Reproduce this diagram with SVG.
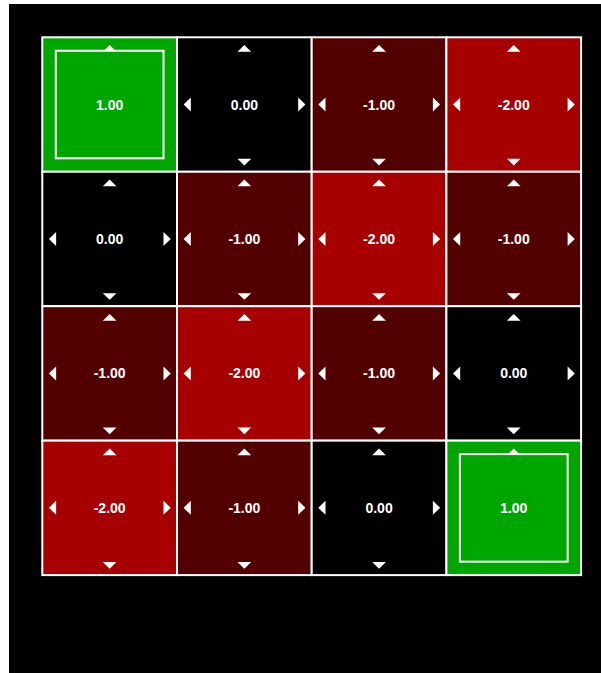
<svg xmlns="http://www.w3.org/2000/svg" xmlns:xlink="http://www.w3.org/1999/xlink" width="601" height="673" viewBox="0 0 601 673">
  <style>
    .cell { stroke: #ffffff; stroke-width: 2; }
    .g { fill: #00a600; }
    .r2 { fill: #a60000; }
    .r1 { fill: #530000; }
    .z { fill: #000000; }
    .arr { fill: #ffffff; }
    .inner { fill: #00a600; stroke: #ffffff; stroke-width: 2; }
    .val { font-family: "Liberation Sans", Arial, sans-serif; font-size: 14px; font-weight: bold; fill: #ffffff; text-anchor: middle; }
  </style>
  <defs>
    <polygon id="up" class="arr" points="67.35,7.8 60.5,14.5 74.2,14.5"/>
    <g id="arrows" class="arr">
      <polygon points="67.35,7.8 60.5,14.5 74.2,14.5"/>
      <polygon points="67.35,128.1 60.5,121.4 74.2,121.4"/>
      <polygon points="6.6,67.2 13.8,60.2 13.8,74.2"/>
      <polygon points="128.4,67.2 121.2,60.2 121.2,74.2"/>
    </g>
  </defs>
  <rect x="0" y="0" width="601" height="673" fill="#ffffff"/>
  <rect x="9" y="4" width="592" height="669" fill="#000000"/>

  <!-- Row 0 -->
  <g id="cell-0-0">
    <rect class="cell g" x="42.3" y="37.3" width="134.7" height="134.45"/>
    <use xlink:href="#up" x="42.3" y="37.3"/>
    <rect class="inner" x="55.77" y="50.75" width="107.76" height="107.56"/>
    <text class="val" x="109.65" y="109.5">1.00</text>
  </g>
  <g id="cell-0-1">
    <rect class="cell z" x="177" y="37.3" width="134.7" height="134.45"/>
    <use xlink:href="#arrows" x="177" y="37.3"/>
    <text class="val" x="244.35" y="109.5">0.00</text>
  </g>
  <g id="cell-0-2">
    <rect class="cell r1" x="311.7" y="37.3" width="134.7" height="134.45"/>
    <use xlink:href="#arrows" x="311.7" y="37.3"/>
    <text class="val" x="379.05" y="109.5">-1.00</text>
  </g>
  <g id="cell-0-3">
    <rect class="cell r2" x="446.4" y="37.3" width="134.7" height="134.45"/>
    <use xlink:href="#arrows" x="446.4" y="37.3"/>
    <text class="val" x="513.75" y="109.5">-2.00</text>
  </g>

  <!-- Row 1 -->
  <g id="cell-1-0">
    <rect class="cell z" x="42.3" y="171.75" width="134.7" height="134.45"/>
    <use xlink:href="#arrows" x="42.3" y="171.75"/>
    <text class="val" x="109.65" y="243.95">0.00</text>
  </g>
  <g id="cell-1-1">
    <rect class="cell r1" x="177" y="171.75" width="134.7" height="134.45"/>
    <use xlink:href="#arrows" x="177" y="171.75"/>
    <text class="val" x="244.35" y="243.95">-1.00</text>
  </g>
  <g id="cell-1-2">
    <rect class="cell r2" x="311.7" y="171.75" width="134.7" height="134.45"/>
    <use xlink:href="#arrows" x="311.7" y="171.75"/>
    <text class="val" x="379.05" y="243.95">-2.00</text>
  </g>
  <g id="cell-1-3">
    <rect class="cell r1" x="446.4" y="171.75" width="134.7" height="134.45"/>
    <use xlink:href="#arrows" x="446.4" y="171.75"/>
    <text class="val" x="513.75" y="243.95">-1.00</text>
  </g>

  <!-- Row 2 -->
  <g id="cell-2-0">
    <rect class="cell r1" x="42.3" y="306.2" width="134.7" height="134.45"/>
    <use xlink:href="#arrows" x="42.3" y="306.2"/>
    <text class="val" x="109.65" y="378.4">-1.00</text>
  </g>
  <g id="cell-2-1">
    <rect class="cell r2" x="177" y="306.2" width="134.7" height="134.45"/>
    <use xlink:href="#arrows" x="177" y="306.2"/>
    <text class="val" x="244.35" y="378.4">-2.00</text>
  </g>
  <g id="cell-2-2">
    <rect class="cell r1" x="311.7" y="306.2" width="134.7" height="134.45"/>
    <use xlink:href="#arrows" x="311.7" y="306.2"/>
    <text class="val" x="379.05" y="378.4">-1.00</text>
  </g>
  <g id="cell-2-3">
    <rect class="cell z" x="446.4" y="306.2" width="134.7" height="134.45"/>
    <use xlink:href="#arrows" x="446.4" y="306.2"/>
    <text class="val" x="513.75" y="378.4">0.00</text>
  </g>

  <!-- Row 3 -->
  <g id="cell-3-0">
    <rect class="cell r2" x="42.3" y="440.65" width="134.7" height="134.45"/>
    <use xlink:href="#arrows" x="42.3" y="440.65"/>
    <text class="val" x="109.65" y="512.85">-2.00</text>
  </g>
  <g id="cell-3-1">
    <rect class="cell r1" x="177" y="440.65" width="134.7" height="134.45"/>
    <use xlink:href="#arrows" x="177" y="440.65"/>
    <text class="val" x="244.35" y="512.85">-1.00</text>
  </g>
  <g id="cell-3-2">
    <rect class="cell z" x="311.7" y="440.65" width="134.7" height="134.45"/>
    <use xlink:href="#arrows" x="311.7" y="440.65"/>
    <text class="val" x="379.05" y="512.85">0.00</text>
  </g>
  <g id="cell-3-3">
    <rect class="cell g" x="446.4" y="440.65" width="134.7" height="134.45"/>
    <use xlink:href="#up" x="446.4" y="440.65"/>
    <rect class="inner" x="459.87" y="454.1" width="107.76" height="107.56"/>
    <text class="val" x="513.75" y="512.85">1.00</text>
  </g>
</svg>
